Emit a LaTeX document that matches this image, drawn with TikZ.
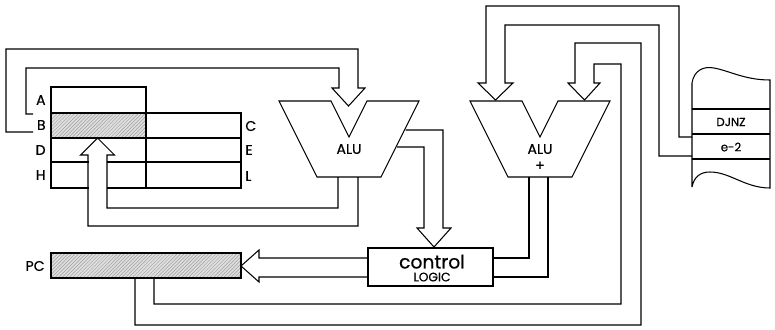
\documentclass[tikz,border=0pt]{standalone}
\usepackage{fontspec}
\setmainfont{Poppins}
\newfontfamily\labelfont{Poppins}[FakeBold=0.6]
\usetikzlibrary{patterns}
\tikzset{
  wire/.style     = {line width=0.9pt, line join=miter},   % bus lines
  hatched/.style  = {draw, line width=0.9pt, preaction={fill=gray!25},
                     pattern=north east lines, pattern color=gray!75},
  reglbl/.style   = {font=\labelfont\fontsize{12}{12}\selectfont, inner sep=1pt},
  memlbl/.style   = {font=\labelfont\fontsize{10}{10}\selectfont, inner sep=1pt}
}

\begin{document}
\begin{tikzpicture}[x=0.3mm, y=-0.3mm]
  \useasboundingbox (0,0) rectangle (775,329);

  % register file
  \draw[wire] (51,87) rectangle (146,113);
  \draw[hatched] (51,113) rectangle (146,138);
  \draw[wire] (146,113) rectangle (241,138);
  \draw[wire] (51,138) rectangle (241,162);
  \draw[wire] (51,162) rectangle (241,188);
  \draw[wire] (146,138) -- (146,188);
  \node[reglbl, anchor=east] (lA) at (47,100) {A};
  \node[reglbl, anchor=east] (lB) at (47,125) {B};
  \node[reglbl, anchor=east] (lD) at (47,150) {D};
  \node[reglbl, anchor=east] (lH) at (47,175) {H};
  \node[reglbl, anchor=west] (lC) at (244,126) {C};
  \node[reglbl, anchor=west] (lE) at (244,150) {E};
  \node[reglbl, anchor=west] (lL) at (244,176) {L};

  % program counter
  \draw[hatched] (51,253) rectangle (241,278);
  \node[reglbl, anchor=east] (lPC) at (46,266) {PC};

  % the two ALUs
  \draw[wire] (279,101) -- (331,101) -- (349,137) -- (367,101) -- (419,101)
              -- (381,177) -- (317,177) -- cycle;
  \node[reglbl] (alu1) at (349,149) {ALU};
  \draw[wire] (470,101) -- (522,101) -- (540,137) -- (558,101) -- (610,101)
              -- (572,177) -- (508,177) -- cycle;
  \node[reglbl] (alu2) at (540,149) {ALU};
  \node[reglbl] (plus) at (540,166) {+};

  % control logic
  \draw[wire] (368,248) rectangle (493,286);
  \node[align=center, inner sep=0pt, font=\labelfont] (ctrl) at (432,268)
    {{\fontsize{16}{16}\selectfont control}\\[-1pt]{\fontsize{10.5}{10.5}\selectfont LOGIC}};

  % memory
  \draw[wire] (692,187) -- (692,83) .. controls (694,70) and (704,66) .. (714,68)
              .. controls (730,71) and (745,80) .. (770,80) -- (770,188)
              .. controls (745,188) and (730,172) .. (710,172)
              .. controls (700,172) and (694,177) .. (692,187);
  \draw[wire] (692,109) -- (770,109);
  \draw[wire] (692,134) -- (770,134);
  \draw[wire] (692,159) -- (770,159);
  \node[memlbl] (djnz) at (731,122) {DJNZ};
  \node[memlbl] (e2) at (731,147) {e-2};

  % B to ALU
  \draw[wire] (33,132) -- (6,132) -- (6,49) -- (358,49) -- (358,88) -- (365,88)
              -- (348.5,106) -- (332,88) -- (339,88) -- (339,68) -- (26,68)
              -- (26,114) -- (33,114);

  % ALU result back to the registers
  \fill[white] (88.5,150) rectangle (106.5,200);
  \draw[wire] (358,177) -- (358,226) -- (88,226) -- (88,155) -- (80.5,155)
              -- (97.5,138) -- (114.5,155) -- (107,155) -- (107,208) -- (338,208)
              -- (338,177);

  % ALU flags to control
  \draw[wire] (405.5,130) -- (443,130) -- (443,228) -- (451,228) -- (434,247)
              -- (417,228) -- (424,228) -- (424,147) -- (397,147);

  % control to PC
  \draw[wire] (368,258) -- (259,258) -- (259,250) -- (241,266) -- (259,282)
              -- (259,277) -- (368,277);

  % ALU + to control
  \draw[wire] (529,177) -- (529,258) -- (493,258);
  \draw[wire] (548,177) -- (548,277) -- (493,277);

  % e-2 to ALU +
  \draw[wire] (692,137) -- (679,137) -- (679,6) -- (486,6) -- (486,83) -- (478,83)
              -- (495.5,100) -- (513,83) -- (505,83) -- (505,25) -- (659,25)
              -- (659,156) -- (692,156);

  % PC to ALU +
  \draw[wire] (154,278) -- (154,304) -- (621,304) -- (621,64) -- (594,64)
              -- (594,83) -- (600,83) -- (584.5,100) -- (568,83) -- (575,83)
              -- (575,43) -- (641,43) -- (641,325) -- (135,325) -- (135,278);
\end{tikzpicture}
\end{document}
